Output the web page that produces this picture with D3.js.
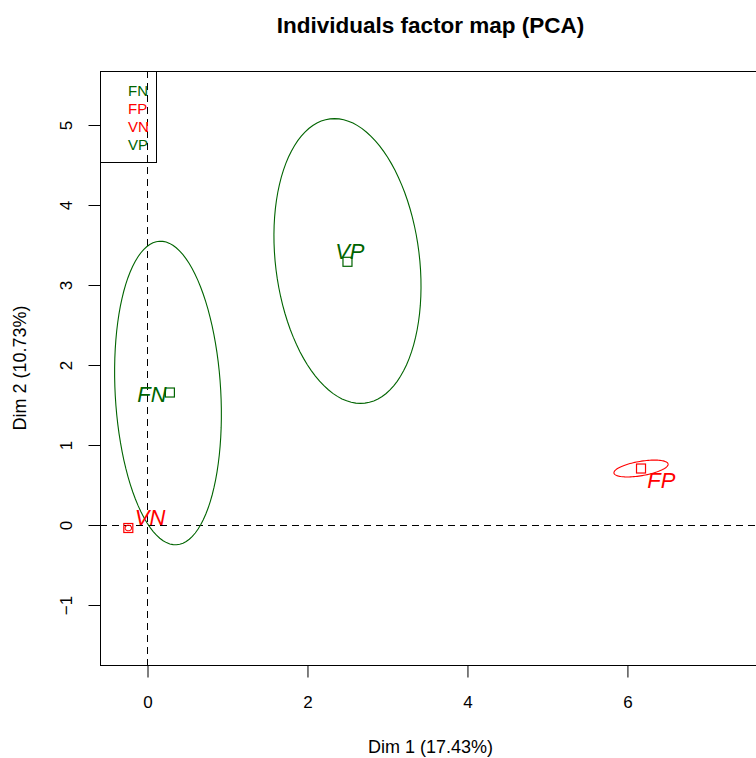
<!DOCTYPE html>
<html>
<head>
<meta charset="utf-8">
<script src="https://cdn.jsdelivr.net/npm/d3@7"></script>
<style>
  body { margin: 0; background: #fff; }
  svg { display: block; font-family: "Liberation Sans", Arial, sans-serif; }
</style>
</head>
<body>
<svg id="chart" width="756" height="758"></svg>
<script>
const width = 756;
const height = 758;

// groups (mean position of each category on Dim 1 / Dim 2)
const groups = ["FN", "FP", "VN", "VP"];
const groupColors = ["#006400", "#FF0000", "#FF0000", "#006400"];
const meanX = [0.28, 6.17, -0.24, 2.5];
const meanY = [1.656, 0.706, -0.0375, 3.29];

// where the category labels sit
const labelX = [0.056, 6.425, 0.031, 2.53];
const labelY = [1.54, 0.4625, 0.0, 3.33];

// confidence ellipses: centre, semi axes, angle of first axis (degrees)
const ellCX = [0.256, 6.17, -0.24, 2.5];
const ellCY = [1.65, 0.706, -0.0375, 3.30];
const ellA = [1.9, 0.343, 0.04, 1.79];
const ellB = [0.66, 0.09, 0.035, 0.9];
const ellAngle = [93.2, 9.5, 0, 97];

const xTicks = [0, 2, 4, 6];
const yTicks = [-1, 0, 1, 2, 3, 4, 5];

const svg = d3.select("#chart");

const plotLeft = 100, plotRight = 761, plotTop = 71, plotBottom = 665;

const xScale = d3.scaleLinear().domain([-0.594, 7.67]).range([plotLeft, plotRight]);
const yScale = d3.scaleLinear().domain([-1.75, 5.675]).range([plotBottom, plotTop]);

// title
svg.append("text")
    .attr("x", (plotLeft + plotRight) / 2)
    .attr("y", 33)
    .attr("text-anchor", "middle")
    .style("font-weight", "bold")
    .style("font-size", "22.5px")
    .text("Individuals factor map (PCA)");

// dashed axes through the origin
const x0 = Math.floor(xScale(0)) + 0.5;
const y0 = Math.round(yScale(0)) + 0.5;
svg.append("line")
    .attr("x1", x0).attr("x2", x0)
    .attr("y1", plotTop).attr("y2", plotBottom)
    .attr("stroke", "#000")
    .attr("stroke-dasharray", "7,5");
svg.append("line")
    .attr("x1", plotLeft).attr("x2", plotRight)
    .attr("y1", y0).attr("y2", y0)
    .attr("stroke", "#000")
    .attr("stroke-dasharray", "7,5");

// x axis
const xAxis = svg.append("g")
    .attr("transform", "translate(0," + (plotBottom + 0.5) + ")")
    .call(d3.axisBottom(xScale).tickValues(xTicks).tickSize(12).tickFormat(d3.format("d")));
xAxis.select(".domain").remove();
xAxis.selectAll("text")
    .attr("y", 36.5)
    .attr("dy", "0.35em")
    .style("font-size", "17px")
    .style("font-family", "Liberation Sans, Arial, sans-serif")
    .attr("fill", "#000");

// y axis
const yAxis = svg.append("g")
    .attr("transform", "translate(" + (plotLeft + 0.5) + ",0)")
    .call(d3.axisLeft(yScale).tickValues(yTicks).tickSize(12).tickFormat(d3.format("d")));
yAxis.select(".domain").remove();
yAxis.selectAll("text")
    .attr("x", 0)
    .attr("dy", 0)
    .attr("text-anchor", "middle")
    .attr("dominant-baseline", "central")
    .attr("transform", "translate(-34,0) rotate(-90)")
    .style("font-size", "17px")
    .style("font-family", "Liberation Sans, Arial, sans-serif")
    .attr("fill", "#000");

// axis titles
svg.append("text")
    .attr("x", (plotLeft + plotRight) / 2)
    .attr("y", 747)
    .attr("text-anchor", "middle")
    .attr("dominant-baseline", "central")
    .style("font-size", "18px")
    .text("Dim 1 (17.43%)");
svg.append("text")
    .attr("transform", "translate(20," + (plotTop + plotBottom) / 2 + ") rotate(-90)")
    .attr("text-anchor", "middle")
    .attr("dominant-baseline", "central")
    .style("font-size", "18px")
    .text("Dim 2 (10.73%)");

// plot box
svg.append("rect")
    .attr("x", plotLeft + 0.5).attr("y", plotTop + 0.5)
    .attr("width", plotRight - plotLeft).attr("height", plotBottom - plotTop)
    .attr("fill", "none")
    .attr("stroke", "#000");

// ellipses
const ellipseLine = d3.line().x(d => xScale(d[0])).y(d => yScale(d[1]));
function ellipsePoints(i) {
    const t = ellAngle[i] * Math.PI / 180;
    const pts = [];
    for (let k = 0; k <= 100; k++) {
        const u = 2 * Math.PI * k / 100;
        const px = ellA[i] * Math.cos(u);
        const py = ellB[i] * Math.sin(u);
        pts.push([ellCX[i] + px * Math.cos(t) - py * Math.sin(t),
                  ellCY[i] + px * Math.sin(t) + py * Math.cos(t)]);
    }
    return pts;
}
svg.append("g").selectAll("path").data(groups).enter()
    .append("path")
    .attr("d", function (d, i) { return ellipseLine(ellipsePoints(i)); })
    .attr("fill", "none")
    .attr("stroke", function (d, i) { return groupColors[i]; })
    .attr("stroke-width", 1.1);

// mean squares
svg.append("g").selectAll("rect").data(groups).enter()
    .append("rect")
    .attr("x", function (d, i) { return xScale(meanX[i]) - 4.5; })
    .attr("y", function (d, i) { return yScale(meanY[i]) - 4.5; })
    .attr("width", 9).attr("height", 9)
    .attr("fill", "none")
    .attr("stroke", function (d, i) { return groupColors[i]; })
    .attr("stroke-width", 1.2);

// category labels
svg.append("g").selectAll("text").data(groups).enter()
    .append("text")
    .attr("x", function (d, i) { return xScale(labelX[i]); })
    .attr("y", function (d, i) { return yScale(labelY[i]); })
    .attr("text-anchor", "middle")
    .style("font-style", "italic")
    .style("font-size", "22px")
    .attr("fill", function (d, i) { return groupColors[i]; })
    .text(function (d) { return d; });

// legend
svg.append("rect")
    .attr("x", plotLeft + 0.5).attr("y", plotTop + 0.5)
    .attr("width", 56).attr("height", 91)
    .attr("fill", "none")
    .attr("stroke", "#000");
svg.append("g").selectAll("text").data(groups).enter()
    .append("text")
    .attr("x", 128)
    .attr("y", function (d, i) { return 90 + i * 18.3; })
    .attr("dominant-baseline", "central")
    .style("font-size", "15px")
    .attr("fill", function (d, i) { return groupColors[i]; })
    .text(function (d) { return d; });
</script>
</body>
</html>
